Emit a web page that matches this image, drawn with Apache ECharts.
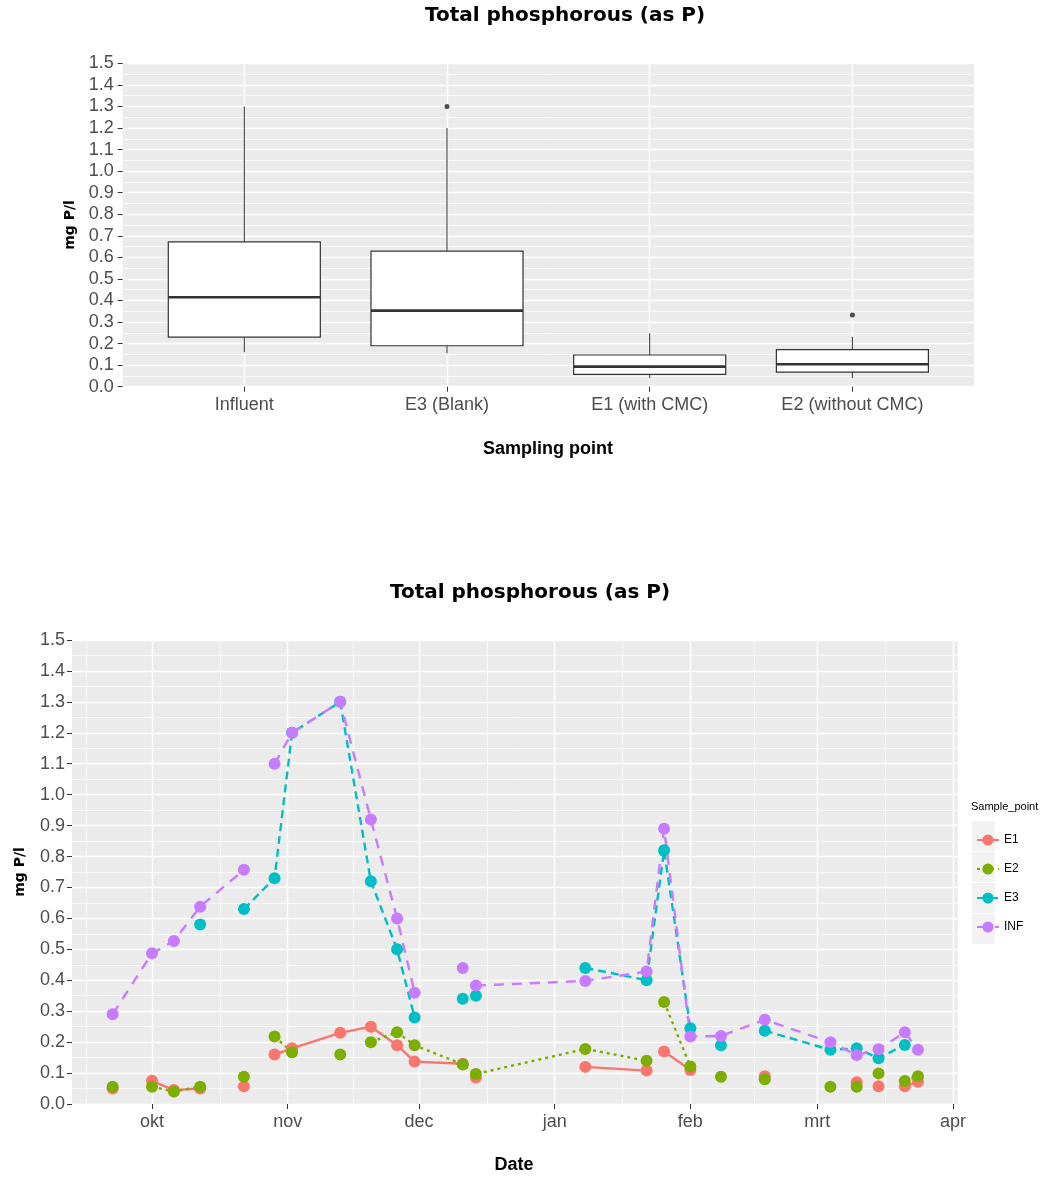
<!DOCTYPE html>
<html><head><meta charset="utf-8">
<script src="https://cdn.jsdelivr.net/npm/echarts@6/dist/echarts.min.js"></script>
<style>html,body{margin:0;padding:0;background:#fff}#c{width:1043px;height:1178px}</style>
</head><body><div id="c"></div>
<script>
// ---------- Top chart: boxplot per sampling point ----------
const boxCategories = ['Influent', 'E3 (Blank)', 'E1 (with CMC)', 'E2 (without CMC)'];
const boxLower  = [0.16, 0.155, 0.04, 0.04];
const boxQ1     = [0.23, 0.19, 0.057, 0.068];
const boxMedian = [0.415, 0.353, 0.093, 0.104];
const boxQ3     = [0.672, 0.629, 0.147, 0.172];
const boxUpper  = [1.30, 1.20, 0.248, 0.232];
const outlierCategory = ['E3 (Blank)', 'E2 (without CMC)'];
const outlierValue    = [1.30, 0.333];

// ---------- Bottom chart: time series per sample point ----------
const monthTicks  = ['2015-09-01','2015-10-01','2015-11-01','2015-12-01','2016-01-01','2016-02-01','2016-03-01','2016-04-01','2016-05-01'];
const monthLabels = ['sep','okt','nov','dec','jan','feb','mrt','apr','mei'];
const seriesNames = ['E1', 'E2', 'E3', 'INF'];

const e1Dates  = ['2015-09-22','2015-09-26','2015-10-01','2015-10-06','2015-10-12','2015-10-17','2015-10-22','2015-10-26','2015-10-29','2015-11-02','2015-11-13','2015-11-20','2015-11-26','2015-11-30','2015-12-11','2015-12-12','2015-12-14','2015-12-28','2016-01-08','2016-01-22','2016-01-24','2016-01-26','2016-02-01','2016-02-10','2016-02-18','2016-02-25','2016-03-10','2016-03-12','2016-03-15','2016-03-18','2016-03-21','2016-03-24'];
const e1Values = [0.05, null, 0.075, 0.045, 0.05, null, 0.057, null, 0.16, 0.18, 0.23, 0.25, 0.19, 0.137, 0.13, null, 0.086, null, 0.12, 0.108, null, 0.17, 0.11, null, 0.09, null, 0.07, null, 0.057, null, 0.057, 0.072];

const e2Dates  = ['2015-09-22','2015-09-26','2015-10-01','2015-10-06','2015-10-12','2015-10-17','2015-10-22','2015-10-26','2015-10-29','2015-11-02','2015-11-08','2015-11-13','2015-11-16','2015-11-20','2015-11-26','2015-11-30','2015-12-11','2015-12-14','2016-01-08','2016-01-22','2016-01-24','2016-01-26','2016-02-01','2016-02-04','2016-02-08','2016-02-13','2016-02-18','2016-02-25','2016-03-04','2016-03-07','2016-03-10','2016-03-12','2016-03-15','2016-03-18','2016-03-21','2016-03-24'];
const e2Values = [0.056, null, 0.056, 0.04, 0.056, null, 0.088, null, 0.218, 0.167, null, 0.16, null, 0.20, 0.232, 0.19, 0.128, 0.097, 0.178, 0.14, null, 0.33, 0.121, null, 0.088, null, 0.08, null, 0.056, null, 0.056, null, 0.099, null, 0.074, 0.09];

const e3Dates  = ['2015-10-12','2015-10-17','2015-10-22','2015-10-29','2015-11-02','2015-11-13','2015-11-20','2015-11-26','2015-11-30','2015-12-05','2015-12-11','2015-12-12','2015-12-14','2015-12-28','2016-01-08','2016-01-22','2016-01-26','2016-02-01','2016-02-04','2016-02-08','2016-02-13','2016-02-18','2016-03-04','2016-03-10','2016-03-15','2016-03-21'];
const e3Values = [0.58, null, 0.63, 0.73, 1.20, 1.30, 0.72, 0.50, 0.28, null, 0.34, null, 0.35, null, 0.44, 0.40, 0.82, 0.245, null, 0.19, null, 0.237, 0.175, 0.18, 0.148, 0.191];

const infDates  = ['2015-09-22','2015-10-01','2015-10-06','2015-10-12','2015-10-22','2015-10-26','2015-10-29','2015-11-02','2015-11-13','2015-11-20','2015-11-26','2015-11-30','2015-12-05','2015-12-11','2015-12-12','2015-12-14','2016-01-08','2016-01-22','2016-01-26','2016-02-01','2016-02-08','2016-02-18','2016-03-04','2016-03-10','2016-03-15','2016-03-21','2016-03-24'];
const infValues = [0.29, 0.487, 0.527, 0.638, 0.757, null, 1.10, 1.20, 1.30, 0.92, 0.60, 0.36, null, 0.44, null, 0.383, 0.398, 0.428, 0.89, 0.218, 0.22, 0.272, 0.20, 0.158, 0.177, 0.232, 0.175];

// ---------- helpers ----------
const DAY = 86400000;
function toTime(s) { const p = s.split('-').map(Number); return Date.UTC(p[0], p[1] - 1, p[2]); }
const monthTimes = monthTicks.map(toTime);
const midMonthTimes = monthTimes.slice(0, -1).map((t, i) => (t + monthTimes[i + 1]) / 2);
const ORIGIN = toTime('2015-10-01');
const xMin = ORIGIN - 18.28 * DAY;
const xMax = ORIGIN + 184.08 * DAY;

const colors = ['#F8766D', '#7CAE00', '#00BFC4', '#C77CFF'];
const lineTypes = ['solid', [3, 4], [8, 5], [10, 8]];
const NARROW = "'Liberation Sans Narrow', 'Arial Narrow', 'Liberation Sans', Arial, sans-serif";
const PANEL = '#EBEBEB';
const tickLabelStyle = { fontFamily: NARROW, fontSize: 18, color: '#4D4D4D' };

function pairs(dates, values) { return dates.map((d, i) => [toTime(d), values[i]]); }
const lineData = [pairs(e1Dates, e1Values), pairs(e2Dates, e2Values), pairs(e3Dates, e3Values), pairs(infDates, infValues)];

const boxData = boxCategories.map((c, i) => [i + 1, boxLower[i], boxQ1[i], boxMedian[i], boxQ3[i], boxUpper[i]]);
const outlierData = outlierCategory.map((c, i) => [boxCategories.indexOf(c) + 1, outlierValue[i]]);

function yAxisCfg(grid, gap, margin) {
  return {
    type: 'value', gridIndex: grid, min: 0, max: 1.5, interval: 0.1,
    name: 'mg P/l', nameLocation: 'middle', nameGap: gap,
    nameTextStyle: { fontFamily: 'DejaVu Sans', fontWeight: 'bold', fontSize: 14, color: '#000' },
    axisLine: { show: false },
    axisTick: { show: true, length: 5, lineStyle: { color: '#333333', width: 1 } },
    axisLabel: Object.assign({ margin: margin, formatter: v => v.toFixed(1) }, tickLabelStyle),
    splitLine: { show: true, lineStyle: { color: '#FFFFFF', width: 1.4 } },
    minorTick: { show: false, splitNumber: 2 },
    minorSplitLine: { show: true, lineStyle: { color: '#FFFFFF', width: 0.7 } }
  };
}

const chart = echarts.init(document.getElementById('c'), null, { renderer: 'canvas' });
const option = {
  backgroundColor: '#FFFFFF',
  animation: false,
  title: [
    { text: 'Total phosphorous (as P)', left: 565, top: 6, textAlign: 'center', padding: 0,
      textStyle: { fontFamily: 'DejaVu Sans', fontWeight: 'bold', fontSize: 20, color: '#000' } },
    { text: 'Total phosphorous (as P)', left: 530, top: 583, textAlign: 'center', padding: 0,
      textStyle: { fontFamily: 'DejaVu Sans', fontWeight: 'bold', fontSize: 20, color: '#000' } },
    { text: 'Sampling point', left: 548, top: 440, textAlign: 'center', padding: 0,
      textStyle: { fontFamily: NARROW, fontWeight: 'bold', fontSize: 18, color: '#000' } },
    { text: 'Date', left: 514, top: 1156, textAlign: 'center', padding: 0,
      textStyle: { fontFamily: NARROW, fontWeight: 'bold', fontSize: 18, color: '#000' } },
    { text: 'Sample_point', left: 971, top: 801, padding: 0,
      textStyle: { fontFamily: NARROW, fontWeight: 'normal', fontSize: 11, color: '#000' } }
  ],
  grid: [
    { left: 122.7, right: 69, top: 63.3, bottom: 791.3, show: true, backgroundColor: PANEL, borderWidth: 0 },
    { left: 72, right: 85.3, top: 640, bottom: 74, show: true, backgroundColor: PANEL, borderWidth: 0 }
  ],
  xAxis: [
    { type: 'value', gridIndex: 0, min: 0.4, max: 4.6,
      axisLine: { show: false },
      axisTick: { show: true, length: 5, customValues: [1, 2, 3, 4], lineStyle: { color: '#333333' } },
      axisLabel: Object.assign({ margin: 9, customValues: [1, 2, 3, 4],
        formatter: v => boxCategories[Math.round(v) - 1] }, tickLabelStyle),
      splitLine: { show: true, lineStyle: { color: '#FFFFFF', width: 1.4 } } },
    { type: 'value', gridIndex: 1, min: xMin, max: xMax, position: 'bottom',
      axisLine: { show: false },
      axisTick: { show: true, length: 5, customValues: monthTimes, lineStyle: { color: '#333333' } },
      axisLabel: Object.assign({ margin: 9, customValues: monthTimes,
        formatter: v => monthLabels[monthTimes.indexOf(v)] }, tickLabelStyle),
      splitLine: { show: true, lineStyle: { color: '#FFFFFF', width: 1.4 } } },
    { type: 'value', gridIndex: 1, min: xMin, max: xMax, position: 'top',
      axisLine: { show: false },
      axisTick: { show: false, customValues: midMonthTimes },
      axisLabel: { show: false },
      splitLine: { show: true, lineStyle: { color: '#FFFFFF', width: 0.7 } } }
  ],
  yAxis: [ yAxisCfg(0, 42, 9), yAxisCfg(1, 45, 7) ],
  legend: {
    data: seriesNames, orient: 'vertical', left: 971, top: 829,
    itemWidth: 22, itemHeight: 14, itemGap: 17,
    textStyle: { fontFamily: NARROW, fontSize: 12, color: '#000' }
  },
  graphic: seriesNames.map((n, i) => ({
    type: 'rect', left: 972, top: 821 + i * 31, z: -1,
    shape: { width: 23, height: 30 }, style: { fill: '#F2F2F2' }, silent: true
  })),
  series: [
    { type: 'custom', name: 'box', xAxisIndex: 0, yAxisIndex: 0,
      encode: { x: 0, y: [1, 2, 3, 4, 5] },
      data: boxData,
      renderItem: function (params, api) {
        const x = api.value(0);
        const lo = api.coord([x, api.value(1)]);
        const q1 = api.coord([x, api.value(2)]);
        const med = api.coord([x, api.value(3)]);
        const q3 = api.coord([x, api.value(4)]);
        const hi = api.coord([x, api.value(5)]);
        const half = api.size([0.75, 0])[0] / 2;
        const stroke = '#333333';
        return { type: 'group', children: [
          { type: 'line', shape: { x1: hi[0], y1: hi[1], x2: q3[0], y2: q3[1] }, style: { stroke: stroke, lineWidth: 1 } },
          { type: 'line', shape: { x1: lo[0], y1: lo[1], x2: q1[0], y2: q1[1] }, style: { stroke: stroke, lineWidth: 1 } },
          { type: 'rect', shape: { x: q3[0] - half, y: q3[1], width: half * 2, height: q1[1] - q3[1] }, style: { fill: '#FFFFFF', stroke: stroke, lineWidth: 1.2 } },
          { type: 'line', shape: { x1: med[0] - half, y1: med[1], x2: med[0] + half, y2: med[1] }, style: { stroke: stroke, lineWidth: 2.6 } }
        ] };
      }
    },
    { type: 'scatter', name: 'outliers', xAxisIndex: 0, yAxisIndex: 0, data: outlierData,
      symbolSize: 5, itemStyle: { color: '#222222' } }
  ].concat(seriesNames.map((n, i) => ({
    type: 'line', name: n, xAxisIndex: 1, yAxisIndex: 1, data: lineData[i],
    connectNulls: false, showSymbol: true, symbol: 'circle', symbolSize: 12,
    itemStyle: { color: colors[i] },
    lineStyle: { color: colors[i], width: 2.4, type: lineTypes[i] }
  })))
};
chart.setOption(option);
</script></body></html>
